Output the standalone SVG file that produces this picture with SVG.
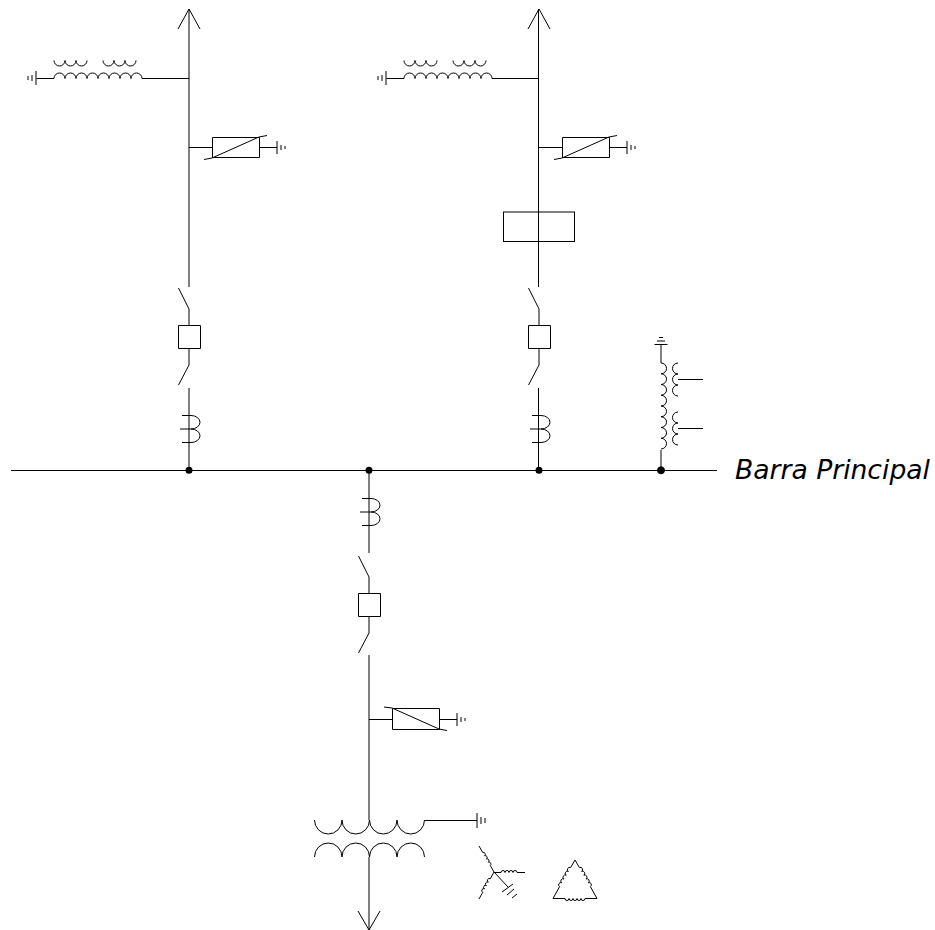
<svg xmlns="http://www.w3.org/2000/svg" width="935" height="930" viewBox="0 0 935 930">
<style>
.l{fill:none;stroke:#000;stroke-width:1}
.t{font-family:"DejaVu Sans",Verdana,sans-serif;font-style:italic;font-size:26.600px;fill:#000}
</style>
<defs>
<g id="reactor" class="l">
<path d="M36 71V85M32 75V81M28 76V80M36.500 78.500H54"/>
<path d="M54 78.500a5.500 5.500 0 0 1 11 0a5.500 5.500 0 0 1 11 0a5.500 5.500 0 0 1 11 0a5.500 5.500 0 0 1 11 0a5.500 5.500 0 0 1 11 0a5.500 5.500 0 0 1 11 0a5.500 5.500 0 0 1 11 0a5.500 5.500 0 0 1 11 0"/>
<path d="M54 60.500a5.500 5.500 0 0 0 11 0a5.500 5.500 0 0 0 11 0a5.500 5.500 0 0 0 11 0M103 60.500a5.500 5.500 0 0 0 11 0a5.500 5.500 0 0 0 11 0a5.500 5.500 0 0 0 11 0"/>
<path d="M142 78.500H189"/>
</g>
<g id="arrester" class="l">
<path d="M189 147.500H212M212.500 137.500H259.500V157.500H212.500ZM259 147.500H277M277 141V154M281 145V150M285 146V149"/>
<path d="M204 159.500L212 158L259 137L267 135.500"/>
</g>
<g id="bay" class="l">
<path d="M178.500 288L189 309V325.500M178.500 325.500H200.500V348.500H178.500ZM189 348V365L178.500 385"/>
</g>
<g id="ct" class="l">
<path d="M182 415.500H191a9 6.750 0 0 1 0 13.500H180M191 429a9 6.750 0 0 1 0 13.500H182"/>
</g>
</defs>
<g id="connectors" class="l">
<path d="M11 470.500H717"/>
<path d="M189 9V287M189 388V470"/>
<path d="M538.500 9V287M538.500 388V470"/>
<path d="M369 470V553M369 655V820M369 857V930"/>
<path d="M661 450V470"/>
</g>
<g id="feeder-left">
<path class="l" d="M178 29L189 9L200 29"/>
<use href="#reactor"/><use href="#arrester"/><use href="#bay"/><use href="#ct"/>
<circle cx="189" cy="470.300" r="3.500"/>
</g>
<g id="feeder-right">
<path class="l" d="M528 29L539 9L550 29"/>
<use href="#reactor" x="350"/><use href="#arrester" x="350"/><use href="#bay" x="350"/><use href="#ct" x="350"/>
<rect class="l" x="503.500" y="212" width="71" height="29.500"/>
<circle cx="539" cy="470.300" r="3.500"/>
</g>
<g id="feeder-center">
<use href="#ct" x="180" y="83"/>
<use href="#bay" x="180" y="268"/>
<g class="l">
<path d="M369 719.500H392M392.500 708.500H439.500V729.500H392.500ZM439 719.500H457M457 713V726M461 717V722M465 718V721"/>
<path d="M384 707L392 708L439 729L447 730.500"/>
</g>
<circle cx="369" cy="470.300" r="3.500"/>
</g>
<g id="transformer" class="l">
<path d="M314.500 820a13.750 14 0 0 0 27.500 0a13.750 14 0 0 0 27.500 0a13.750 14 0 0 0 27.500 0a13.750 14 0 0 0 27.500 0"/>
<path d="M314.500 857a13.750 14 0 0 1 27.500 0a13.750 14 0 0 1 27.500 0a13.750 14 0 0 1 27.500 0a13.750 14 0 0 1 27.500 0"/>
<path d="M424 820.500H477M477 813V828M481 817V824M485 818V823"/>
<path d="M358 911L369 930L380 911"/>
</g>
<g id="wye" class="l">
<path d="M479 846L482.750 852.500a1.900 1.900 0 0 1 1.875 3.250a1.900 1.900 0 0 1 1.875 3.250a1.900 1.900 0 0 1 1.875 3.250a1.900 1.900 0 0 1 1.875 3.250L494 872"/>
<path d="M479 899L482.750 892.250a1.900 1.900 0 0 1 1.875 -3.375a1.900 1.900 0 0 1 1.875 -3.375a1.900 1.900 0 0 1 1.875 -3.375a1.900 1.900 0 0 1 1.875 -3.375L494 872"/>
<path d="M494 872.500H501a2 2 0 0 1 4 0a2 2 0 0 1 4 0a2 2 0 0 1 4 0a2 2 0 0 1 4 0H525"/>
<path d="M494 872L508 887M502 892L513 884M507 895L514 889M512 898L517 894"/>
</g>
<g id="delta" class="l">
<path d="M575 860L579.400 867.600a2.200 2.200 0 0 1 2.200 3.800a2.200 2.200 0 0 1 2.200 3.800a2.200 2.200 0 0 1 2.200 3.800a2.200 2.200 0 0 1 2.200 3.800a2.200 2.200 0 0 1 2.200 3.800L597 898.500"/>
<path d="M575 860L570.600 867.600a2.200 2.200 0 0 0 -2.200 3.800a2.200 2.200 0 0 0 -2.200 3.800a2.200 2.200 0 0 0 -2.200 3.800a2.200 2.200 0 0 0 -2.200 3.800a2.200 2.200 0 0 0 -2.200 3.800L553 898.500"/>
<path d="M553 898.500H565a2 2 0 0 0 4 0a2 2 0 0 0 4 0a2 2 0 0 0 4 0a2 2 0 0 0 4 0a2 2 0 0 0 4 0H597"/>
</g>
<g id="pt" class="l">
<path d="M654.500 344.500H667.500M657 341H665M659 337.500H663M661 345V363"/>
<path d="M661 363a5.500 5.375 0 0 1 0 10.750a5.500 5.375 0 0 1 0 10.750a5.500 5.375 0 0 1 0 10.750a5.500 5.375 0 0 1 0 10.750a5.500 5.375 0 0 1 0 10.750a5.500 5.375 0 0 1 0 10.750a5.500 5.375 0 0 1 0 10.750a5.500 5.375 0 0 1 0 10.750"/>
<path d="M678 363a5.500 5.500 0 0 0 0 11a5.500 5.500 0 0 0 0 11a5.500 5.500 0 0 0 0 11M678 379.500H703"/>
<path d="M678 412a5.500 5.500 0 0 0 0 11a5.500 5.500 0 0 0 0 11a5.500 5.500 0 0 0 0 11M678 428.500H703"/>
<circle cx="661" cy="470.300" r="3.500" fill="#000"/>
</g>
<g id="label"><text class="t" x="735" y="479">Barra Principal</text></g>
</svg>
